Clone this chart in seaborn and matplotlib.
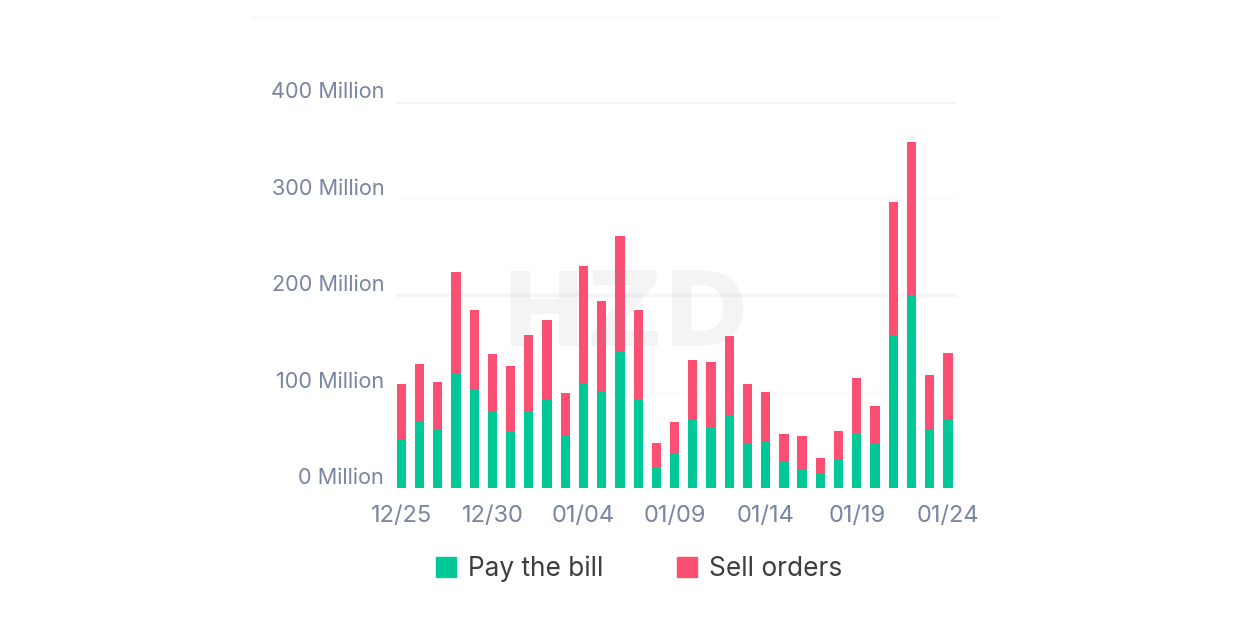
import matplotlib
matplotlib.use("Agg")
import matplotlib.pyplot as plt
from matplotlib.patches import Patch
from matplotlib.lines import Line2D
from matplotlib.transforms import ScaledTranslation
import seaborn as sns

dates = ["12/25", "12/26", "12/27", "12/28", "12/29", "12/30", "12/31", "01/01",
         "01/02", "01/03", "01/04", "01/05", "01/06", "01/07", "01/08", "01/09",
         "01/10", "01/11", "01/12", "01/13", "01/14", "01/15", "01/16", "01/17",
         "01/18", "01/19", "01/20", "01/21", "01/22", "01/23", "01/24"]
# millions
pay_bill = [50, 68, 60, 118, 103, 80, 59, 80, 92, 54, 108, 100, 141, 92, 21, 36,
            72, 63, 76, 46, 49, 28, 19, 16, 29, 56, 46, 158, 199, 60, 72]
sell_orders = [58, 60, 50, 106, 81, 59, 67, 79, 82, 44, 122, 94, 120, 92, 26, 32,
               61, 68, 82, 62, 50, 28, 35, 15, 30, 58, 39, 138, 160, 57, 68]
y_ticks = [0, 100, 200, 300, 400]
y_labels = ["0 Million", "100 Million", "200 Million", "300 Million", "400 Million"]

GREEN = "#00c896"
RED = "#fb4f74"
TICK_COL = "#7a84a3"
grid_cols = ["#ffffff", "#fbfbfb", "#f5f5f6", "#fbfbfb", "#f5f5f6"]

sns.set_theme(style="white")
plt.rcParams["font.family"] = ["Inter", "DejaVu Sans"]

W, H = 1254, 641
fig = plt.figure(figsize=(W / 100, H / 100), dpi=100, facecolor="white")
# axes box in pixels: x 396-957, y 102-488
ax = fig.add_axes([396 / W, 1 - 488 / H, (957 - 396) / W, (488 - 102) / H])

totals = [p + s for p, s in zip(pay_bill, sell_orders)]
sns.barplot(x=dates, y=totals, color=RED, saturation=1, width=0.51, linewidth=0, ax=ax, zorder=3)
sns.barplot(x=dates, y=pay_bill, color=GREEN, saturation=1, width=0.51, linewidth=0, ax=ax, zorder=3)

ax.set_xlim(-0.29, 30.5)
ax.set_ylim(0, 400)
ax.set_xlabel("")
ax.set_ylabel("")
sns.despine(ax=ax, left=True, bottom=True, top=True, right=True)

ax.set_xticks(range(0, len(dates), 5))
ax.set_xticklabels(dates[::5])
ax.set_yticks(y_ticks)
ax.set_yticklabels(y_labels)
ax.tick_params(axis="x", length=0, pad=12, labelsize=17, labelcolor=TICK_COL)
ax.tick_params(axis="y", length=0, pad=8.5, labelsize=15.6, labelcolor=TICK_COL)

# very faint grid, 200 and 400 a bit stronger
ax.set_axisbelow(True)
ax.yaxis.grid(True, lw=2.5)
for gl, c in zip(ax.get_ygridlines(), grid_cols):
    gl.set_color(c)

# y labels sit above their gridlines
shift = ScaledTranslation(0, 8.4 / 72, fig.dpi_scale_trans)
for lab in ax.get_yticklabels():
    lab.set_transform(lab.get_transform() + shift)

# faint watermark
fig.text(625 / W, 1 - 318 / H, "HZD", ha="center", va="center", fontsize=75,
         fontfamily="DejaVu Sans", fontweight="bold", color="#8a8f99", alpha=0.09, zorder=10)

# top hairline
fig.add_artist(Line2D([252 / W, 1000 / W], [1 - 17 / H] * 2, color="#f5f5f5", lw=1))

handles = [Patch(color=GREEN, label="Pay the bill"), Patch(color=RED, label="Sell orders")]
fig.legend(handles=handles, loc="center", bbox_to_anchor=(639 / W, 1 - 569 / H), ncol=2,
           frameon=False, fontsize=18.9, labelcolor="#3d3d3d", handlelength=0.76,
           handleheight=0.76, handletextpad=0.46, columnspacing=2.8)

fig.savefig("out.png", dpi=100)
